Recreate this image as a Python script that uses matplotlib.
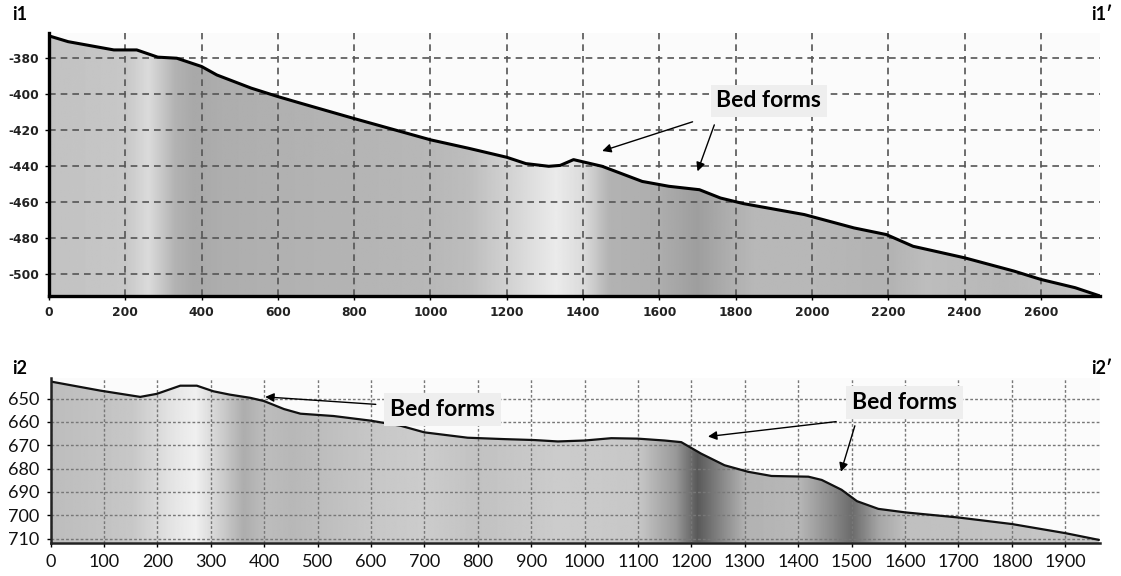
import numpy as np
import matplotlib
matplotlib.use('Agg')
import matplotlib.pyplot as plt

plt.rcParams['axes.unicode_minus'] = False

# profile i1 - i1'
dist1 = [0, 50, 170, 230, 285, 335, 400, 440, 530, 600, 660, 800, 1000, 1100, 1200,
         1250, 1310, 1340, 1375, 1450, 1555, 1625, 1705, 1760, 1820, 1980, 2110, 2195,
         2265, 2400, 2530, 2600, 2690, 2755]
depth1 = [-367.6, -370.8, -375.4, -375.4, -379.4, -380.0, -384.6, -389.3, -396.6, -401.3,
          -405.0, -413.5, -425.3, -430.0, -435.0, -438.5, -440.0, -439.5, -436.3, -440.0,
          -448.4, -451.1, -453.0, -457.6, -460.7, -466.8, -474.2, -477.9, -484.4, -490.8,
          -498.2, -502.8, -507.4, -512.0]

# profile i2 - i2'
dist2 = [0, 93, 168, 199, 243, 274, 305, 335, 374, 400, 437, 468, 530, 600, 656, 700,
         781, 850, 906, 950, 1000, 1050, 1100, 1150, 1181, 1218, 1262, 1306, 1350, 1419,
         1444, 1481, 1510, 1550, 1600, 1700, 1800, 1900, 1963]
depth2 = [642.7, 646.6, 649.3, 648.0, 644.5, 644.5, 646.9, 648.3, 649.7, 651.1, 654.5,
          656.5, 657.5, 659.5, 661.7, 664.5, 666.8, 667.4, 667.8, 668.4, 668.0, 667.0,
          667.2, 668.0, 668.7, 673.6, 678.6, 681.4, 683.2, 683.5, 684.9, 689.1, 694.0,
          697.3, 698.8, 701.0, 703.8, 707.7, 710.6]

# grey shading bands of the fill (style)
shade1_x = [0, 200, 260, 330, 380, 450, 700, 1000, 1100, 1250, 1330, 1400, 1470, 1600,
            1700, 1780, 1850, 2000, 2200, 2300, 2500, 2755]
shade1_g = [0.76, 0.78, 0.86, 0.70, 0.66, 0.68, 0.70, 0.72, 0.74, 0.86, 0.92, 0.86, 0.70,
            0.68, 0.62, 0.68, 0.72, 0.72, 0.70, 0.74, 0.72, 0.76]
shade2_x = [0, 150, 230, 270, 320, 360, 400, 450, 600, 700, 800, 950, 1100, 1170, 1210,
            1260, 1300, 1400, 1460, 1500, 1550, 1600, 1963]
shade2_g = [0.74, 0.78, 0.90, 0.94, 0.80, 0.68, 0.74, 0.72, 0.78, 0.80, 0.76, 0.80, 0.78,
            0.60, 0.35, 0.55, 0.70, 0.72, 0.55, 0.42, 0.65, 0.75, 0.78]

fig = plt.figure(figsize=(11.21, 5.76), dpi=100)


def shaded_profile(ax, x, y, base, sx, sg, xlim, ylim, lw, lc):
    poly = ax.fill_between(x, y, base, color='none', zorder=1)
    xs = np.linspace(xlim[0], xlim[1], 800)
    g = np.interp(xs, sx, sg)
    im = ax.imshow(g[np.newaxis, :], extent=[xlim[0], xlim[1], min(ylim), max(ylim)],
                   aspect='auto', cmap='gray', vmin=0, vmax=1, origin='lower', zorder=1)
    im.set_clip_path(poly.get_paths()[0], transform=ax.transData)
    ax.plot(x, y, color=lc, lw=lw, zorder=3, solid_capstyle='round')


box = dict(boxstyle='square,pad=0.25', fc='#eeeeee', ec='none')
arrow = dict(arrowstyle='-|>', color='black', lw=1.0, mutation_scale=13, shrinkA=0, shrinkB=0)

# ---- top panel ----
ax1 = fig.add_axes([49 / 1121, 1 - 296 / 576, 1051 / 1121, 263 / 576])
ax1.set_facecolor('#fbfbfb')
xlim1 = (0, 2755)
ylim1 = (-512, -366)
shaded_profile(ax1, dist1, depth1, -512, shade1_x, shade1_g, xlim1, ylim1, 2.2, 'black')
ax1.set_xlim(*xlim1)
ax1.set_ylim(*ylim1)
ax1.set_xticks(np.arange(0, 2601, 200))
ax1.set_yticks(np.arange(-500, -379, 20))
ax1.set_axisbelow(False)
ax1.grid(True, color='#555555', linestyle=(0, (4, 3)), lw=1.2)
for s in ['top', 'right']:
    ax1.spines[s].set_visible(False)
for s in ['left', 'bottom']:
    ax1.spines[s].set_linewidth(2.4)
    ax1.spines[s].set_zorder(4)
ax1.tick_params(length=3, width=1, pad=4)
for lab in ax1.get_xticklabels() + ax1.get_yticklabels():
    lab.set_fontsize(8.8)
    lab.set_fontweight('bold')
    lab.set_color('#222222')

ax1.text(1887, -403.7, 'Bed forms', family='Lato', fontsize=16.5, fontweight='bold',
         ha='center', va='center', zorder=5, bbox=box)
ax1.annotate('', xy=(1450, -431.5), xytext=(1687, -415.3), arrowprops=arrow, zorder=5)
ax1.annotate('', xy=(1700, -442.8), xytext=(1744, -417.0), arrowprops=arrow, zorder=5)

# ---- bottom panel ----
ax2 = fig.add_axes([50.5 / 1121, 1 - 542.7 / 576, 1049.5 / 1121, 164.7 / 576])
ax2.set_facecolor('#fbfbfb')
xlim2 = (0, 1965)
ylim2 = (711.8, 641.2)
shaded_profile(ax2, dist2, depth2, 711.8, shade2_x, shade2_g, xlim2, ylim2, 1.6, '#111111')
ax2.set_xlim(*xlim2)
ax2.set_ylim(*ylim2)
ax2.set_xticks(np.arange(0, 1901, 100))
ax2.set_yticks(np.arange(650, 711, 10))
ax2.set_axisbelow(False)
ax2.grid(True, color='#777777', linestyle=(0, (2, 1.5)), lw=1.0)
for s in ['top', 'right']:
    ax2.spines[s].set_visible(False)
for s in ['left', 'bottom']:
    ax2.spines[s].set_linewidth(1.8)
    ax2.spines[s].set_color('#222222')
    ax2.spines[s].set_zorder(4)
ax2.tick_params(length=3, width=1, pad=5)
for lab in ax2.get_xticklabels() + ax2.get_yticklabels():
    lab.set_family('Lato')
    lab.set_fontsize(13)
    lab.set_color('#111111')

ax2.text(734, 654.7, 'Bed forms', family='Lato', fontsize=16.5, fontweight='bold',
         ha='center', va='center', zorder=5, bbox=box)
ax2.text(1599, 651.8, 'Bed forms', family='Lato', fontsize=16.5, fontweight='bold',
         ha='center', va='center', zorder=5, bbox=box)
ax2.annotate('', xy=(402, 649.3), xytext=(609, 652.5), arrowprops=arrow, zorder=5)
ax2.annotate('', xy=(1231, 666.3), xytext=(1471, 659.9), arrowprops=arrow, zorder=5)
ax2.annotate('', xy=(1480, 681.4), xytext=(1506, 661.7), arrowprops=arrow, zorder=5)

# panel labels
for txt, x, y, ha in [('i1', 12, 14, 'left'), ('i1\u2032', 1112, 14, 'right'),
                      ('i2', 12, 368, 'left'), ('i2\u2032', 1112, 368, 'right')]:
    fig.text(x / 1121, 1 - y / 576, txt, family='Lato', fontsize=13, fontweight='bold',
             ha=ha, va='center')

fig.savefig('out.png', dpi=100)
